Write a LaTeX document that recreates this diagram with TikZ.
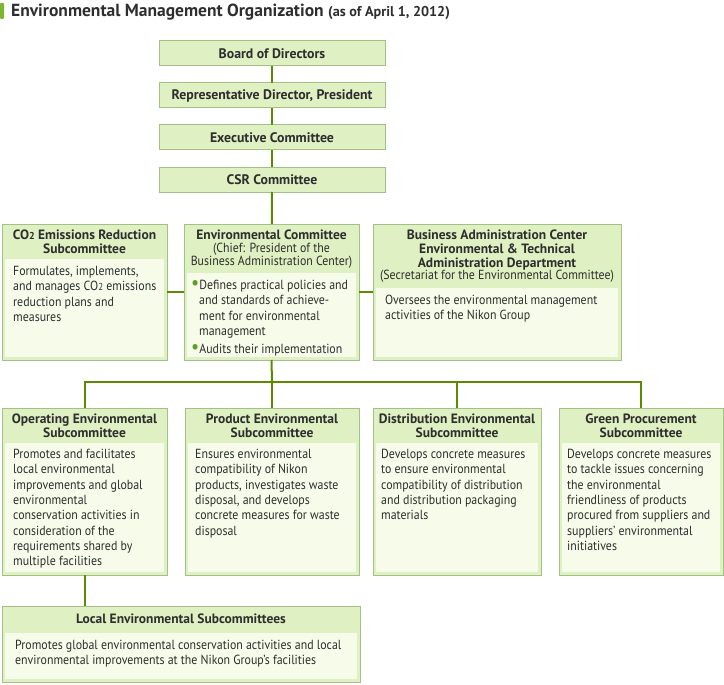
\documentclass[tikz,border=0pt]{standalone}
\usepackage{fontspec}
\setmainfont{PT Sans}
\newfontfamily\narrowfont[FakeStretch=0.9,Ligatures=TeX]{PT Sans}
\definecolor{NkBorder}{HTML}{A3C184}
\definecolor{NkFill}{HTML}{DFF0C2}
\definecolor{NkInner}{HTML}{F6FBEA}
\definecolor{NkLine}{HTML}{5B8C00}
\definecolor{NkText}{HTML}{2E2E2E}
\definecolor{NkBar}{HTML}{7DB52E}
\definecolor{NkDot}{HTML}{5E9E22}
\usetikzlibrary{positioning}

\begin{document}
\begin{tikzpicture}[x=1pt, y=-1pt,
    every node/.style={font=\fontsize{12}{15.3}\selectfont, text=NkText},
    box/.style={draw=NkBorder, fill=NkFill, line width=1pt, anchor=north west, inner sep=0pt, outer sep=0pt},
    inbox/.style={fill=NkInner, anchor=north west, inner sep=0pt, outer sep=0pt},
    head/.style={anchor=north, align=center, inner sep=0pt, font=\bfseries\fontsize{13.5}{13.6}\selectfont},
    txt/.style={anchor=north west, align=left, inner sep=0pt, font=\narrowfont\fontsize{13.2}{15.3}\selectfont},
    link/.style={draw=NkLine, line width=2pt}]
  \useasboundingbox (0,0) rectangle (724,685);

  % title
  \fill[NkBar, rounded corners=1pt] (0,3) rectangle (4,19);
  \node[anchor=base west, inner sep=0pt, font=\bfseries\fontsize{17.5}{19}\selectfont] (title) at (11,17)
    {Environmental Management Organization {\fontsize{14.2}{16}\selectfont(as of April 1, 2012)}};

  % top chain
  \node[box, minimum width=226pt, minimum height=25pt, font=\bfseries\fontsize{13.8}{15}\selectfont] (board) at (159,41) {Board of Directors};
  \node[box, minimum width=226pt, minimum height=25pt, font=\bfseries\fontsize{13.8}{15}\selectfont] (pres) at (159,83) {Representative Director, President};
  \node[box, minimum width=226pt, minimum height=25pt, font=\bfseries\fontsize{13.8}{15}\selectfont] (exec) at (159,125) {Executive Committee};
  \node[box, minimum width=226pt, minimum height=25pt, font=\bfseries\fontsize{13.8}{15}\selectfont] (csr) at (159,167) {CSR Committee};

  % second row
  \node[box, minimum width=165pt, minimum height=136pt] (co2) at (2,224) {};
  \node[inbox, minimum width=159pt, minimum height=98pt] (co2in) at (5,259) {};
  \node[head] (co2h) at (84.5,230) {CO{\fontsize{10}{10}\selectfont 2} Emissions Reduction\\Subcommittee};
  \node[txt] (co2t) at (13,266) {Formulates, implements,\\and manages CO{\fontsize{10}{10}\selectfont 2} emissions\\reduction plans and\\measures};

  \node[box, minimum width=175pt, minimum height=136pt] (envc) at (184,224) {};
  \node[inbox, minimum width=169pt, minimum height=84pt] (envcin) at (187,273) {};
  \node[head] (envch) at (271.5,230) {Environmental Committee\\[-1pt]{\mdseries\narrowfont\fontsize{13.2}{13}\selectfont (Chief: President of the}\\[-1pt]{\mdseries\narrowfont\fontsize{13.2}{13}\selectfont Business Administration Center)}};
  \node[txt] (envct) at (191,280) {\textcolor{NkDot}{\fontsize{20}{13}\selectfont\textbullet}Defines practical policies and\\
    \hspace*{8pt}and standards of achieve-\\
    \hspace*{8pt}ment for environmental\\
    \hspace*{8pt}management\\[3pt]
    \textcolor{NkDot}{\fontsize{20}{13}\selectfont\textbullet}Audits their implementation};

  \node[box, minimum width=248pt, minimum height=136pt] (bac) at (373,224) {};
  \node[inbox, minimum width=242pt, minimum height=69pt] (bacin) at (376,288) {};
  \node[head] (bach) at (497,230) {Business Administration Center\\Environmental \& Technical\\Administration Department\\[-1pt]{\mdseries\narrowfont\fontsize{13.2}{13}\selectfont (Secretariat for the Environmental Committee)}};
  \node[txt] (bact) at (385,295) {Oversees the environmental management\\activities of the Nikon Group};

  % third row
  \node[box, minimum width=165pt, minimum height=167pt] (ops) at (2,408) {};
  \node[inbox, minimum width=159pt, minimum height=129pt] (opsin) at (5,443) {};
  \node[head] (opsh) at (84.5,414) {Operating Environmental\\Subcommittee};
  \node[txt] (opst) at (13,449) {Promotes and facilitates\\local environmental\\improvements and global\\environmental\\conservation activities in\\consideration of the\\requirements shared by\\multiple facilities};

  \node[box, minimum width=174pt, minimum height=167pt] (prod) at (185,408) {};
  \node[inbox, minimum width=168pt, minimum height=129pt] (prodin) at (188,443) {};
  \node[head] (prodh) at (272,414) {Product Environmental\\Subcommittee};
  \node[txt] (prodt) at (195,449) {Ensures environmental\\compatibility of Nikon\\products, investigates waste\\disposal, and develops\\concrete measures for waste\\disposal};

  \node[box, minimum width=168pt, minimum height=167pt] (dist) at (373,408) {};
  \node[inbox, minimum width=162pt, minimum height=129pt] (distin) at (376,443) {};
  \node[head] (disth) at (457,414) {Distribution Environmental\\Subcommittee};
  \node[txt] (distt) at (381,449) {Develops concrete measures\\to ensure environmental\\compatibility of distribution\\and distribution packaging\\materials};

  \node[box, minimum width=164pt, minimum height=167pt] (green) at (559,408) {};
  \node[inbox, minimum width=158pt, minimum height=129pt] (greenin) at (562,443) {};
  \node[head] (greenh) at (641,414) {Green Procurement\\Subcommittee};
  \node[txt] (greent) at (567,449) {Develops concrete measures\\to tackle issues concerning\\the environmental\\friendliness of products\\procured from suppliers and\\suppliers’ environmental\\initiatives};

  % bottom
  \node[box, minimum width=358pt, minimum height=76pt] (local) at (2,606) {};
  \node[inbox, minimum width=352pt, minimum height=46pt] (localin) at (5,633) {};
  \node[head] (localh) at (181,614) {Local Environmental Subcommittees};
  \node[txt] (localt) at (15,640) {Promotes global environmental conservation activities and local\\environmental improvements at the Nikon Group’s facilities};

  % connectors
  \coordinate (bus) at (272,382);
  \draw[link] (board) -- (pres);
  \draw[link] (pres) -- (exec);
  \draw[link] (exec) -- (csr);
  \draw[link] (csr) -- (envc);
  \draw[link] (co2.east) -- (envc.west);
  \draw[link] (envc.east) -- (bac.west);
  \draw[link] (envc.south) -- (bus);
  \draw[link] (ops.north) |- (bus) -| (green.north);
  \draw[link] (prod.north) -- (prod.north |- bus);
  \draw[link] (dist.north) -- (dist.north |- bus);
  \draw[link] (ops.south) -- (ops.south |- local.north);
\end{tikzpicture}
\end{document}
